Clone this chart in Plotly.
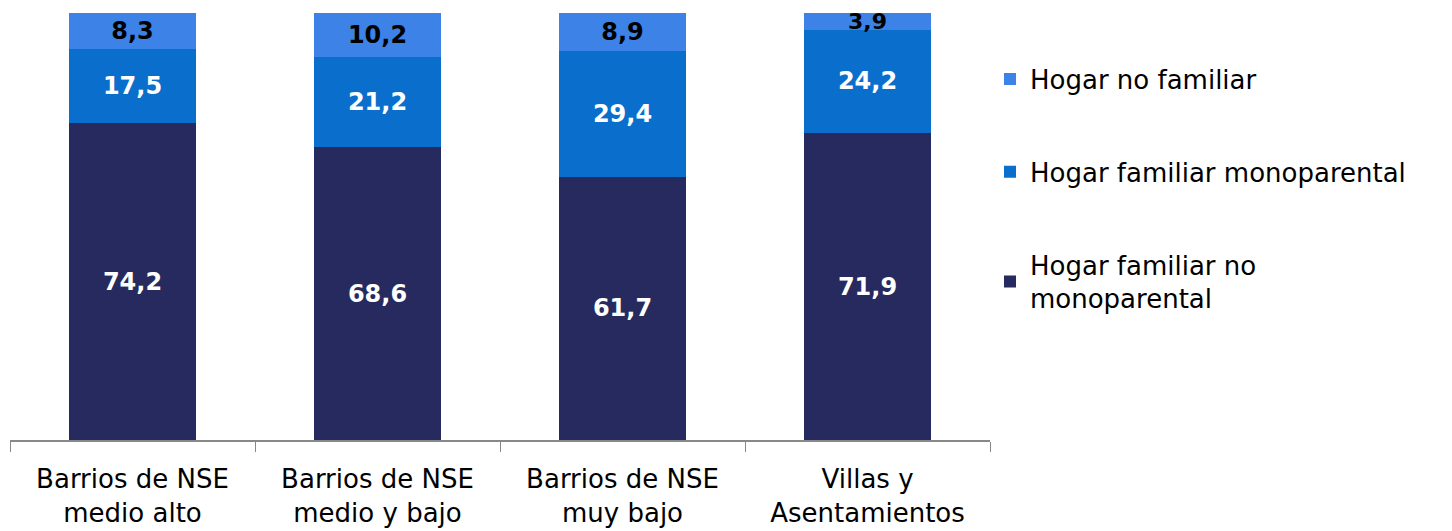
import plotly.graph_objects as go

categories = ["Barrios de NSE<br>medio alto", "Barrios de NSE<br>medio y bajo",
              "Barrios de NSE<br>muy bajo", "Villas y<br>Asentamientos"]
no_monoparental = [74.2, 68.6, 61.7, 71.9]
monoparental = [17.5, 21.2, 29.4, 24.2]
no_familiar = [8.3, 10.2, 8.9, 3.9]

series_names = ["Hogar familiar no<br>monoparental", "Hogar familiar monoparental", "Hogar no familiar"]
colors = ["#262A5E", "#0A6FCC", "#3D82E6"]
text_colors = ["white", "white", "black"]
label_sizes = [[24] * 4, [24] * 4, [24, 24, 24, 22]]

FONT = "DejaVu Sans"
fig = go.Figure()
for i, (name, vals) in enumerate(zip(series_names, [no_monoparental, monoparental, no_familiar])):
    fig.add_trace(go.Bar(
        x=categories, y=vals, name=name, legendgroup=f"g{i}", legendrank=10 - i,
        marker=dict(color=colors[i], line=dict(width=0)),
        texttemplate="%{y:.1f}", textposition="inside", insidetextanchor="middle",
        textangle=0, constraintext="none",
        textfont=dict(family=FONT, size=label_sizes[i], color=text_colors[i], weight="bold"),
    ))

fig.update_layout(
    barmode="stack", bargap=0.48, separators=",.",
    width=1444, height=523,
    margin=dict(l=2, r=462, t=0, b=91),
    plot_bgcolor="white", paper_bgcolor="white",
    font=dict(family=FONT, size=26, color="black"),
    legend=dict(x=1.0, y=0.89, xanchor="left", yanchor="top",
                traceorder="grouped", tracegroupgap=56,
                font=dict(family=FONT, size=26, color="black"),
                itemwidth=30),
    xaxis=dict(showline=True, linecolor="#888", linewidth=1.5, ticks="outside",
               tickson="boundaries", ticklen=10, tickcolor="#888",
               ticklabelstandoff=15,
               tickfont=dict(family=FONT, size=26, color="black")),
    yaxis=dict(range=[0, 101.2], visible=False, showgrid=False),
)
fig.write_html("out.html")
